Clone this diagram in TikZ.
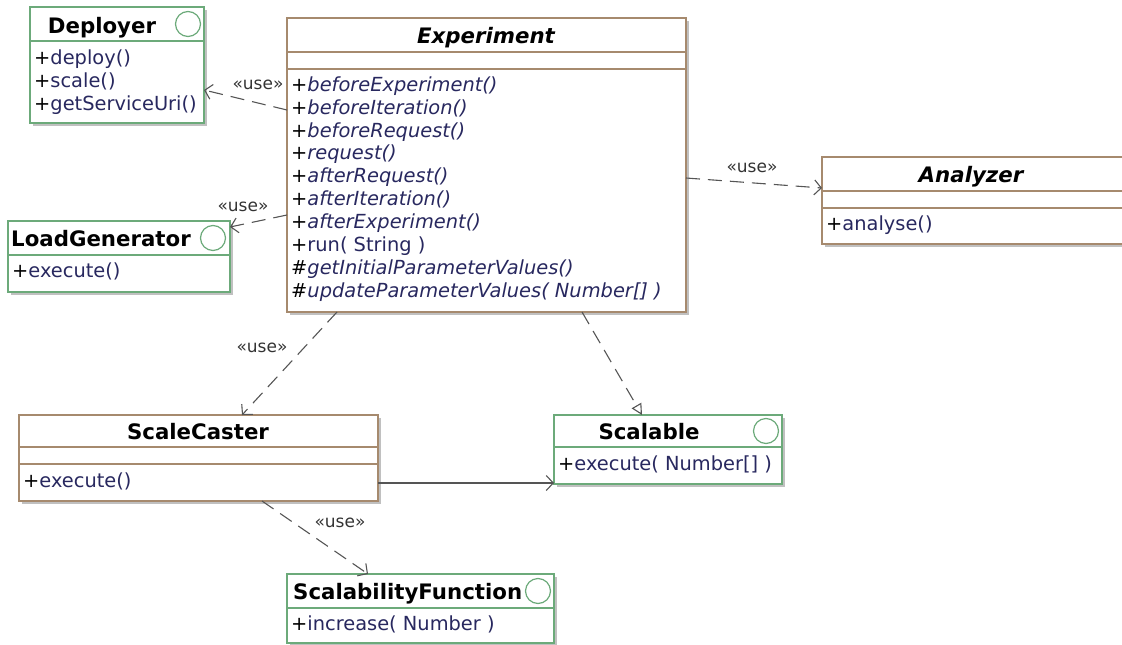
\documentclass[tikz,border=0pt]{standalone}
\usepackage{fontspec}
\setmainfont{DejaVu Sans}
\usetikzlibrary{arrows.meta,shadows,calc}

\definecolor{classbrown}{RGB}{166,138,110}
\definecolor{ifacegreen}{RGB}{108,170,122}
\definecolor{shadowgray}{RGB}{192,192,192}
\definecolor{linkgray}{RGB}{85,85,85}
\definecolor{opname}{RGB}{40,40,95}

% visibility sign in black, operation name in dark blue
\newcommand{\umlop}[2]{\strut{\color{black}#1}\textcolor{opname}{#2}}

\begin{document}
\begin{tikzpicture}[x=1pt,y=-1pt,
  box/.style={fill=white, line width=1.2pt, inner sep=0pt, outer sep=0pt, anchor=north west,
    drop shadow={shadow xshift=3pt, shadow yshift=-3pt, fill=shadowgray, opacity=1}},
  classbox/.style={box, draw=classbrown},
  ifacebox/.style={box, draw=ifacegreen},
  sep/.style={line width=1.2pt},
  title/.style={font=\fontsize{21.3}{24}\selectfont\bfseries, inner sep=0pt, anchor=base},
  ops/.style={font=\fontsize{19.4}{22.9}\selectfont, align=left, inner sep=0pt, anchor=north west},
  ifacemark/.style={draw=ifacegreen, line width=1.2pt, circle, minimum size=25pt, inner sep=0pt},
  stereo/.style={font=\fontsize{17}{19}\selectfont, text=black!80, inner sep=0pt},
  link/.style={draw=linkgray, line width=1.1pt},
  tipV/.style={-{Straight Barb[length=7pt,width=15pt,line width=1.1pt]}},
  uses/.style={link, dash pattern=on 14pt off 8pt, tipV},
  realizes/.style={link, dash pattern=on 14pt off 8pt,
    -{Triangle[open,length=11pt,width=11pt,fill=white,line width=1.1pt]}},
  assoc/.style={link, tipV},
]
\useasboundingbox (0,0) rectangle (1122,645);

% ---------- Deployer (interface) ----------
\node[ifacebox, minimum width=174pt, minimum height=116pt] (dep) at (30,7) {};
\draw[sep, ifacegreen] ([yshift=-34pt]dep.north west) -- ([yshift=-34pt]dep.north east);
\node[title] (deptitle) at (102,33) {Deployer};
\node[ifacemark] (depmark) at (188,24) {};
\node[ops] (depops) at (34,48) {\umlop{+}{deploy()}\\\umlop{+}{scale()}\\\umlop{+}{getServiceUri()}};

% ---------- Experiment (abstract class) ----------
\node[classbox, minimum width=399pt, minimum height=294pt] (exp) at (287,18) {};
\draw[sep, classbrown] ([yshift=-34pt]exp.north west) -- ([yshift=-34pt]exp.north east);
\draw[sep, classbrown] ([yshift=-51pt]exp.north west) -- ([yshift=-51pt]exp.north east);
\node[title, font=\fontsize{21.3}{24}\selectfont\bfseries\itshape] (exptitle) at (486,43) {Experiment};
\node[ops] (expops) at (291,75) {%
  \umlop{+}{\itshape beforeExperiment()}\\
  \umlop{+}{\itshape beforeIteration()}\\
  \umlop{+}{\itshape beforeRequest()}\\
  \umlop{+}{\itshape request()}\\
  \umlop{+}{\itshape afterRequest()}\\
  \umlop{+}{\itshape afterIteration()}\\
  \umlop{+}{\itshape afterExperiment()}\\
  \umlop{+}{run( String )}\\
  \umlop{\#}{\itshape getInitialParameterValues()}\\
  \umlop{\#}{\itshape updateParameterValues( Number[] )}};

% ---------- Analyzer (abstract class) ----------
\node[classbox, minimum width=310pt, minimum height=87pt] (ana) at (822,157) {};
\draw[sep, classbrown] ([yshift=-34pt]ana.north west) -- ([yshift=-34pt]ana.north east);
\draw[sep, classbrown] ([yshift=-51pt]ana.north west) -- ([yshift=-51pt]ana.north east);
\node[title, font=\fontsize{21.3}{24}\selectfont\bfseries\itshape] (anatitle) at (971,182) {Analyzer};
\node[ops] (anaops) at (826,214) {\umlop{+}{analyse()}};

% ---------- LoadGenerator (interface) ----------
\node[ifacebox, minimum width=222pt, minimum height=71pt] (lg) at (8,221) {};
\draw[sep, ifacegreen] ([yshift=-34pt]lg.north west) -- ([yshift=-34pt]lg.north east);
\node[title, anchor=base west] (lgtitle) at (11,246) {LoadGenerator};
\node[ifacemark] (lgmark) at (213,238) {};
\node[ops] (lgops) at (12,261) {\umlop{+}{execute()}};

% ---------- ScaleCaster (class) ----------
\node[classbox, minimum width=359pt, minimum height=86pt] (sc) at (19,415) {};
\draw[sep, classbrown] ([yshift=-32pt]sc.north west) -- ([yshift=-32pt]sc.north east);
\draw[sep, classbrown] ([yshift=-49pt]sc.north west) -- ([yshift=-49pt]sc.north east);
\node[title] (sctitle) at (198,439) {ScaleCaster};
\node[ops] (scops) at (23,471) {\umlop{+}{execute()}};

% ---------- Scalable (interface) ----------
\node[ifacebox, minimum width=228pt, minimum height=69pt] (scl) at (554,415) {};
\draw[sep, ifacegreen] ([yshift=-32pt]scl.north west) -- ([yshift=-32pt]scl.north east);
\node[title] (scltitle) at (649,439) {Scalable};
\node[ifacemark] (sclmark) at (766,431) {};
\node[ops] (sclops) at (558,454) {\umlop{+}{execute( Number[] )}};

% ---------- ScalabilityFunction (interface) ----------
\node[ifacebox, minimum width=267pt, minimum height=69pt] (sf) at (287,574) {};
\draw[sep, ifacegreen] ([yshift=-34pt]sf.north west) -- ([yshift=-34pt]sf.north east);
\node[title, anchor=base west] (sftitle) at (293,599) {ScalabilityFunction};
\node[ifacemark] (sfmark) at (538,591) {};
\node[ops] (sfops) at (291,614) {\umlop{+}{increase( Number )}};

% ---------- dependencies ----------
\draw[uses] ([yshift=-92pt]exp.north west) -- ([yshift=-83pt]dep.north east);
\node[stereo] (usedep) at (258,85) {«use»};

\draw[uses] ([yshift=-197pt]exp.north west) -- ([yshift=-6pt]lg.north east);
\node[stereo] (uselg) at (243,207) {«use»};

\draw[uses] ([yshift=-160pt]exp.north east) -- ([yshift=-31pt]ana.north west);
\node[stereo] (useana) at (752,168) {«use»};

\draw[uses] ([xshift=50pt]exp.south west) -- ([xshift=223pt]sc.north west);
\node[stereo] (usesc) at (262,348) {«use»};

\draw[uses] ([xshift=243pt]sc.south west) -- ([xshift=81pt]sf.north west);
\node[stereo] (usesf) at (340,523) {«use»};

% realization and association
\draw[realizes] ([xshift=295pt]exp.south west) -- ([xshift=88pt]scl.north west);
\draw[assoc] ([yshift=-68pt]sc.north east) -- ([yshift=-68pt]scl.north west);
\end{tikzpicture}
\end{document}
